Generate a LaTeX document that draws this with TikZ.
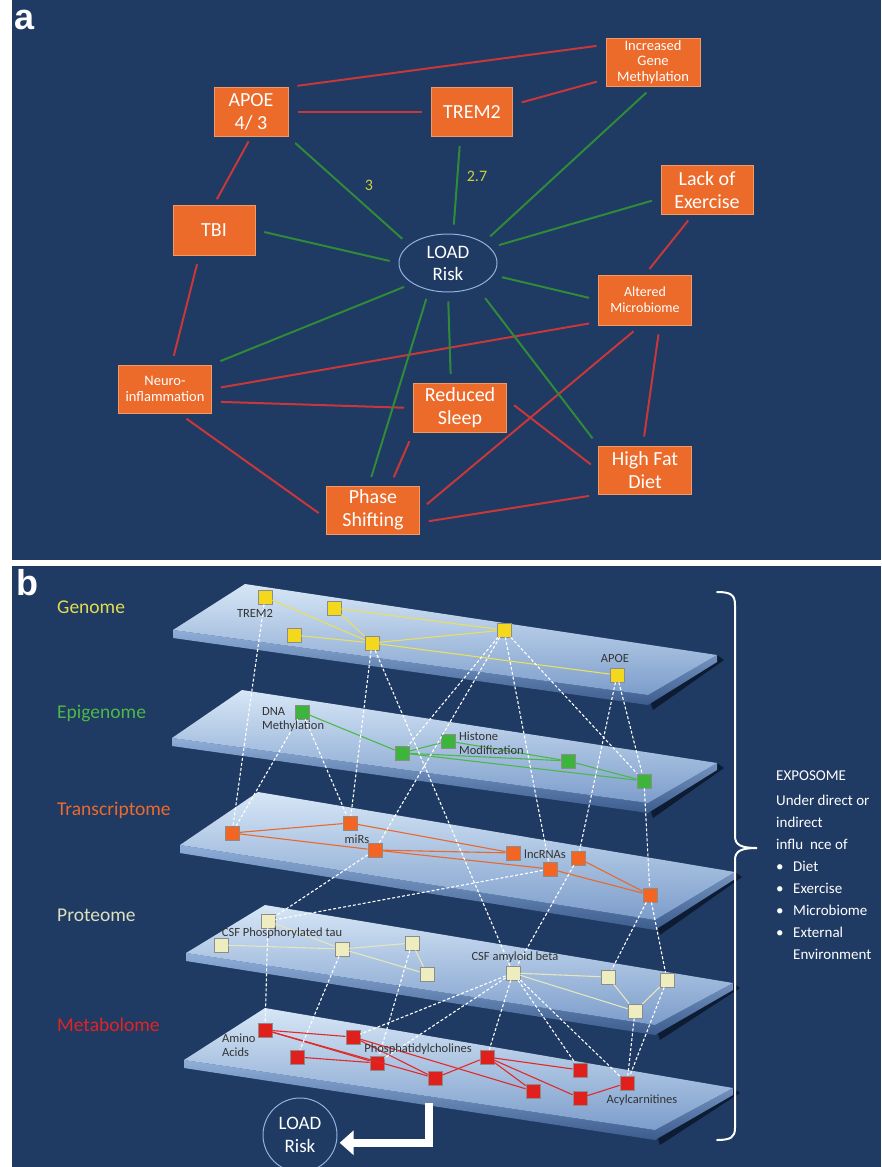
\documentclass[tikz,border=0pt]{standalone}
\usepackage{fontspec}
\setmainfont{Carlito}
\newfontfamily\arialb{Liberation Sans}
\usetikzlibrary{arrows.meta,calc,shapes.geometric}

\definecolor{navy}{HTML}{1F3A63}
\definecolor{boxor}{HTML}{EC6A2A}
\definecolor{boxedge}{HTML}{F29A66}
\definecolor{redl}{HTML}{C8383A}
\definecolor{greenl}{HTML}{2F8A3A}
\definecolor{numy}{HTML}{CFCF3E}
\definecolor{sqY}{HTML}{F4D81E}
\definecolor{sqG}{HTML}{3DB53D}
\definecolor{sqO}{HTML}{F26522}
\definecolor{sqP}{HTML}{EEEDC0}
\definecolor{sqR}{HTML}{E0201C}
\definecolor{lnY}{HTML}{E8E060}
\definecolor{lnG}{HTML}{4CB84C}
\definecolor{lnO}{HTML}{E8692E}
\definecolor{lnP}{HTML}{E4E6C0}
\definecolor{lnR}{HTML}{E02A2A}
\definecolor{labY}{HTML}{E2DC50}
\definecolor{labG}{HTML}{4CB848}
\definecolor{labO}{HTML}{EA6A30}
\definecolor{labP}{HTML}{DCE0C0}
\definecolor{labR}{HTML}{E02424}
\definecolor{planeA}{HTML}{D6E6F6}
\definecolor{planeB}{HTML}{7C9DCB}
\definecolor{slabA}{HTML}{8FAED8}
\definecolor{slabB}{HTML}{3C5C8E}
\definecolor{shadowc}{HTML}{0D1C33}
\definecolor{txtd}{HTML}{333333}
\definecolor{ellc}{HTML}{8FB3E0}

\tikzset{
  fbox/.style={rectangle, fill=boxor, draw=boxedge, line width=1pt, text=white, align=center, inner sep=0pt},
  bigt/.style={font=\fontsize{20}{23}\selectfont},
  smallt/.style={font=\fontsize{14.5}{15.5}\selectfont},
  rl/.style={draw=redl, line width=2pt, shorten <=9pt, shorten >=9pt},
  gl/.style={draw=greenl, line width=2pt, shorten <=9pt, shorten >=9pt},
  sq/.style={rectangle, minimum size=14pt, inner sep=0pt, draw=black!45, line width=0.7pt},
  dl/.style={draw=white, line width=1.1pt, dash pattern=on 3pt off 2pt},
  layerlab/.style={anchor=west, inner sep=0pt, font=\fontsize{19.5}{22}\selectfont},
  blab/.style={text=txtd, inner sep=0pt, font=\fontsize{12.5}{14}\selectfont},
  expo/.style={anchor=base west, inner sep=0pt, text=white, font=\fontsize{15}{18}\selectfont},
  numlab/.style={text=numy, inner sep=0pt, font=\fontsize{16}{18}\selectfont},
  panlab/.style={anchor=base west, inner sep=0pt, text=white, font=\arialb\bfseries\fontsize{36}{40}\selectfont}
}

\newcommand\drawplane[4]{%
  \fill[shadowc] (#3) -- (#2) -- ($(#2)+(7,5)$) -- ($(#3)+(5,15)$) -- cycle;
  \shade[top color=slabA, bottom color=slabB] (#4) -- (#3) -- (#2) -- ($(#2)+(0,7)$) -- ($(#3)+(0,10)$) -- ($(#4)+(0,8)$) -- cycle;
  \shade[top color=planeA, bottom color=planeB] (#1) -- (#2) -- (#3) -- (#4) -- cycle;
}

\begin{document}
\begin{tikzpicture}[x=1pt,y=-1pt]
\useasboundingbox (0,0) rectangle (881,1167);
\fill[white] (0,0) rectangle (881,1167);
\fill[navy] (12,0) rectangle (881,560);
\fill[navy] (12,566) rectangle (881,1167);

% ---------------- panel a ----------------
\node[panlab] (pa) at (14,29) {a};

\node[fbox,bigt,minimum width=74pt,minimum height=49pt] (apoe) at (251,112) {APOE\\4/ 3};
\node[fbox,bigt,minimum width=81pt,minimum height=49pt] (trem) at (472,112) {TREM2};
\node[fbox,smallt,minimum width=94pt,minimum height=48pt] (igm) at (653,62) {Increased\\Gene\\Methylation};
\node[fbox,bigt,minimum width=82pt,minimum height=50pt] (tbi) at (214,230) {TBI};
\node[fbox,bigt,minimum width=92pt,minimum height=49pt] (exer) at (707,190) {Lack of\\Exercise};
\node[ellipse, draw=ellc, line width=1pt, fill=navy, minimum width=98pt, minimum height=58pt, text=white, align=center, inner sep=0pt, font=\fontsize{19}{22}\selectfont] (load) at (448,263) {LOAD\\Risk};
\node[fbox,font=\fontsize{14}{16}\selectfont,minimum width=93pt,minimum height=50pt] (micro) at (645,300) {Altered\\Microbiome};
\node[fbox,smallt,minimum width=93pt,minimum height=48pt] (neuro) at (165,389) {Neuro-\\inflammation};
\node[fbox,bigt,minimum width=93pt,minimum height=49pt] (sleep) at (460,408) {Reduced\\Sleep};
\node[fbox,bigt,minimum width=93pt,minimum height=48pt] (hfd) at (645,470) {High Fat\\Diet};
\node[fbox,bigt,minimum width=93pt,minimum height=48pt] (phase) at (373,510) {Phase\\Shifting};

% red links
\draw[rl] (apoe.north east) -- (igm.160);
\draw[rl] (apoe.east) -- (trem.west);
\draw[rl] (trem.10) -- (igm.200);
\draw[rl, shorten <=5pt, shorten >=6pt] (apoe.south) -- (tbi.north);
\draw[rl] (tbi.240) -- (neuro.75);
\draw[rl, shorten <=7pt, shorten >=7pt] (exer.240) -- (micro.north);
\draw[rl] (neuro.east) -- (micro.205);
\draw[rl] (neuro.345) -- (sleep.west);
\draw[rl] (neuro.300) -- (phase.190);
\draw[rl] (sleep.south west) -- (phase.55);
\draw[rl] (sleep.10) -- (hfd.west);
\draw[rl] (micro.260) -- (phase.east);
\draw[rl] (micro.300) -- (hfd.95);
\draw[rl] (phase.345) -- (hfd.south west);

% green links
\draw[gl] (apoe.south east) -- (load.155);
\draw[gl] (trem.245) -- (load.80);
\draw[gl] (igm.south) -- (load.30);
\draw[gl] (tbi.east) -- (load.west);
\draw[gl] (exer.190) -- (load.20);
\draw[gl] (micro.west) -- (load.345);
\draw[gl] (neuro.north east) -- (load.210);
\draw[gl] (phase.100) -- (load.235);
\draw[gl] (sleep.110) -- (load.south);
\draw[gl, shorten >=14pt] (hfd.north west) -- (load.320);

\node[numlab] (n3) at (369,185) {3};
\node[numlab] (n27) at (477,176) {2.7};

% ---------------- panel b ----------------
\node[panlab] (pb) at (16,595) {b};

\drawplane{245,584}{717,655}{648,695}{173,630}
\drawplane{242,690}{717,763}{648,803}{172,738}
\drawplane{258,792}{735,872}{655,920}{180,845}
\drawplane{265,905}{733,983}{655,1025}{186,953}
\drawplane{265,1008}{733,1088}{655,1130}{184,1060}

\node[layerlab, text=labY] (lgen) at (57,607) {Genome};
\node[layerlab, text=labG] (lepi) at (57,713) {Epigenome};
\node[layerlab, text=labO] (ltra) at (57,810) {Transcriptome};
\node[layerlab, text=labP] (lpro) at (57,915) {Proteome};
\node[layerlab, text=labR] (lmet) at (57,1025) {Metabolome};

% squares
\node[sq, fill=sqY] (g1) at (265,597) {};
\node[sq, fill=sqY] (g2) at (334,608) {};
\node[sq, fill=sqY] (g3) at (294,635) {};
\node[sq, fill=sqY] (g4) at (372,643) {};
\node[sq, fill=sqY] (g5) at (504,630) {};
\node[sq, fill=sqY] (g6) at (617,675) {};

\node[sq, fill=sqG] (e1) at (302,712) {};
\node[sq, fill=sqG] (e2) at (402,753) {};
\node[sq, fill=sqG] (e3) at (448,741) {};
\node[sq, fill=sqG] (e4) at (568,761) {};
\node[sq, fill=sqG] (e5) at (644,781) {};

\node[sq, fill=sqO] (t1) at (232,833) {};
\node[sq, fill=sqO] (t2) at (350,823) {};
\node[sq, fill=sqO] (t3) at (375,850) {};
\node[sq, fill=sqO] (t4) at (513,853) {};
\node[sq, fill=sqO] (t5) at (578,858) {};
\node[sq, fill=sqO] (t6) at (550,869) {};
\node[sq, fill=sqO] (t7) at (650,895) {};

\node[sq, fill=sqP] (p1) at (268,921) {};
\node[sq, fill=sqP] (p2) at (221,945) {};
\node[sq, fill=sqP] (p3) at (342,949) {};
\node[sq, fill=sqP] (p4) at (412,943) {};
\node[sq, fill=sqP] (p5) at (427,974) {};
\node[sq, fill=sqP] (p6) at (513,973) {};
\node[sq, fill=sqP] (p7) at (608,977) {};
\node[sq, fill=sqP] (p8) at (667,980) {};
\node[sq, fill=sqP] (p9) at (635,1011) {};

\node[sq, fill=sqR] (m1) at (265,1030) {};
\node[sq, fill=sqR] (m2) at (353,1037) {};
\node[sq, fill=sqR] (m3) at (297,1057) {};
\node[sq, fill=sqR] (m4) at (377,1063) {};
\node[sq, fill=sqR] (m5) at (435,1078) {};
\node[sq, fill=sqR] (m6) at (487,1057) {};
\node[sq, fill=sqR] (m7) at (580,1070) {};
\node[sq, fill=sqR] (m8) at (533,1091) {};
\node[sq, fill=sqR] (m9) at (580,1098) {};
\node[sq, fill=sqR] (m10) at (627,1083) {};

% intra-layer links
\begin{scope}[draw=lnY, line width=1.1pt]
\draw (g1) -- (g4); \draw (g2) -- (g4); \draw (g2) -- (g5); \draw (g3) -- (g4);
\draw (g4) -- (g5); \draw (g4) -- (g6);
\end{scope}
\begin{scope}[draw=lnG, line width=1.1pt]
\draw (e1) -- (e2); \draw (e2) -- (e3); \draw (e2) -- (e4); \draw (e3) -- (e4);
\draw (e2) -- (e5); \draw (e4) -- (e5);
\end{scope}
\begin{scope}[draw=lnO, line width=1.1pt]
\draw (t1) -- (t2); \draw (t1) -- (t3); \draw (t2) -- (t4); \draw (t3) -- (t4);
\draw (t3) -- (t6); \draw (t5) -- (t7); \draw (t6) -- (t7);
\end{scope}
\begin{scope}[draw=lnP, line width=1.1pt]
\draw (p1) -- (p3); \draw (p2) -- (p3); \draw (p3) -- (p4); \draw (p3) -- (p5);
\draw (p4) -- (p5); \draw (p6) -- (p7); \draw (p6) -- (p9); \draw (p7) -- (p9);
\draw (p8) -- (p9);
\end{scope}
\begin{scope}[draw=lnR, line width=1.1pt]
\draw (m1) -- (m2); \draw (m1) -- (m4); \draw (m1) -- (m5); \draw (m3) -- (m4);
\draw (m2) -- (m5); \draw (m2) -- (m8); \draw (m5) -- (m6); \draw (m6) -- (m7);
\draw (m6) -- (m8); \draw (m6) -- (m9); \draw (m9) -- (m10);
\end{scope}

% inter-layer dashed links
\draw[dl] (g1) -- (t1);
\draw[dl] (g4) -- (t2);
\draw[dl] (g4) -- (p6);
\draw[dl] (g5) -- (e2);
\draw[dl] (g5) -- (t3);
\draw[dl] (g5) -- (t6);
\draw[dl] (g5) -- (e5);
\draw[dl] (g6) -- (t5);
\draw[dl] (g6) -- (e5);
\draw[dl] (e1) -- (t1);
\draw[dl] (e1) -- (t2);
\draw[dl] (e5) -- (t7);
\draw[dl] (t3) -- (p1);
\draw[dl] (t6) -- (p1);
\draw[dl] (t5) -- (p6);
\draw[dl] (t7) -- (p7);
\draw[dl] (t7) -- (p8);
\draw[dl] (p1) -- (m1);
\draw[dl] (p3) -- (m3);
\draw[dl] (p4) -- (m4);
\draw[dl] (p6) -- (m2);
\draw[dl] (p6) -- (m4);
\draw[dl] (p6) -- (m6);
\draw[dl] (p6) -- (m7);
\draw[dl] (p6) -- (m10);
\draw[dl] (p9) -- (m10);
\draw[dl] (p8) -- (m10);

% labels on planes
\node[blab] (ltrem2) at (255,613) {TREM2};
\node[blab] (lapoe) at (615,658) {APOE};
\node[blab, anchor=west, align=left] (ldna) at (262,719) {DNA\\Methylation};
\node[blab, anchor=west, align=left] (lhis) at (459,743) {Histone\\Modification};
\node[blab] (lmirs) at (357,839) {miRs};
\node[blab] (llnc) at (545,854) {lncRNAs};
\node[blab] (lcsft) at (282,933) {CSF Phosphorylated tau};
\node[blab] (lcsfa) at (515,957) {CSF amyloid beta};
\node[blab, anchor=west, align=left] (lamino) at (222,1045) {Amino\\Acids};
\node[blab] (lphos) at (418,1049) {Phosphatidylcholines};
\node[blab] (lacyl) at (642,1100) {Acylcarnitines};

% LOAD risk and arrow
\node[circle, draw=ellc, line width=1pt, minimum size=74pt, text=white, align=center, inner sep=0pt, font=\fontsize{19}{23}\selectfont] (loadb) at (300,1135) {LOAD\\Risk};
\coordinate (astart) at (429,1103);
\draw[white, line width=8pt, shorten >=3pt, -{Triangle[width=24pt,length=14pt]}] (astart) |- (loadb.-12);

% brace
\draw[white, line width=2pt, line cap=round]
  (717,592) .. controls (731,592) and (735,595) .. (735,605) -- (735,836)
  .. controls (735,845) and (741,848) .. (757,848)
  .. controls (741,848) and (735,851) .. (735,860) -- (735,1128)
  .. controls (735,1137) and (731,1140) .. (717,1140);

% exposome text
\node[expo] (x1) at (776,780) {EXPOSOME};
\node[expo] (x2) at (776,805) {Under direct or};
\node[expo] (x3) at (776,827) {indirect};
\node[expo] (x4) at (776,849) {influ\ \ nce of};
\node[expo] (x5) at (776,871) {\makebox[17pt][l]{•}Diet};
\node[expo] (x6) at (776,893) {\makebox[17pt][l]{•}Exercise};
\node[expo] (x7) at (776,915) {\makebox[17pt][l]{•}Microbiome};
\node[expo] (x8) at (776,937) {\makebox[17pt][l]{•}External};
\node[expo] (x9) at (776,959) {\hspace*{17pt}Environment};
\end{tikzpicture}
\end{document}
